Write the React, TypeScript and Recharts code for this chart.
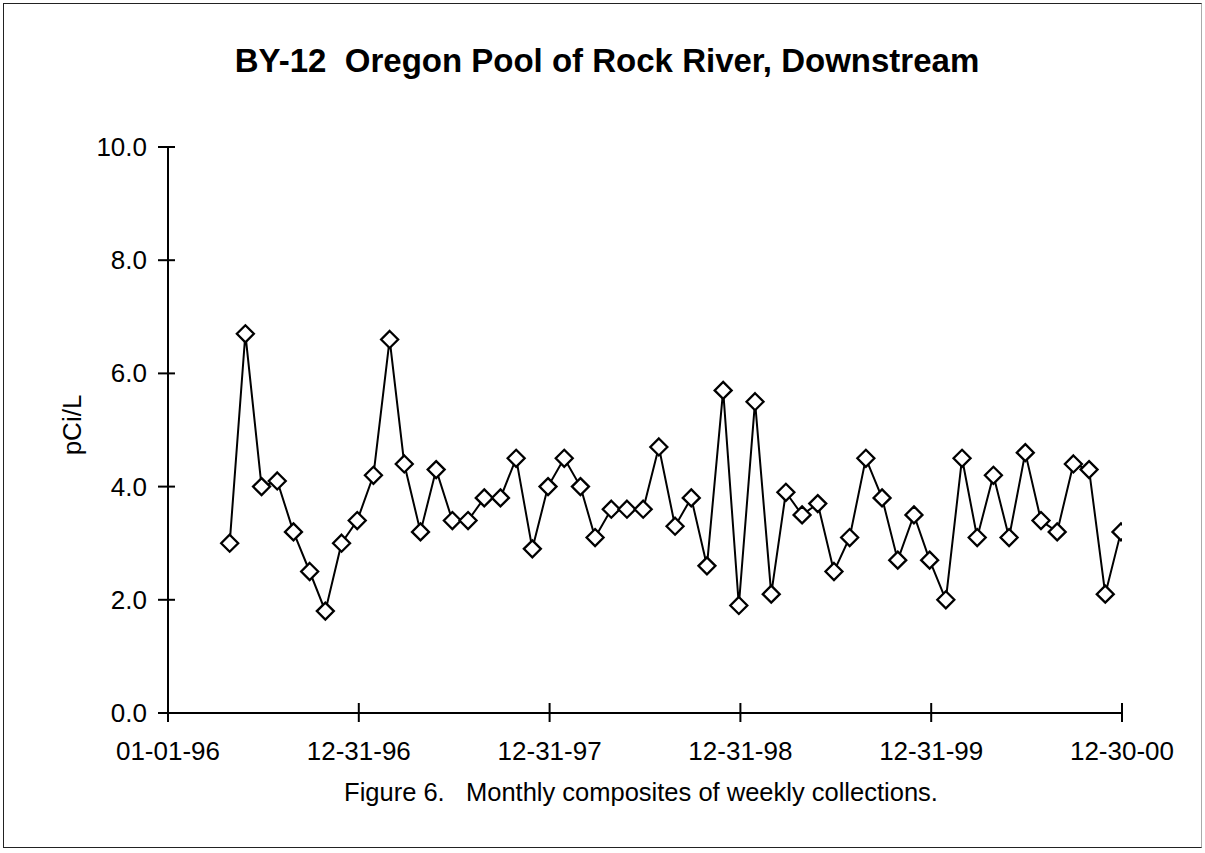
import React from 'react';
import { LineChart, Line, XAxis, YAxis } from 'recharts';

// Sample months (monthly composites of weekly collections)
const sampleMonths = [
  '1996-04', '1996-05', '1996-06', '1996-07', '1996-08', '1996-09', '1996-10', '1996-11', '1996-12',
  '1997-01', '1997-02', '1997-03', '1997-04', '1997-05', '1997-06', '1997-07', '1997-08', '1997-09', '1997-10', '1997-11', '1997-12',
  '1998-01', '1998-02', '1998-03', '1998-04', '1998-05', '1998-06', '1998-07', '1998-08', '1998-09', '1998-10', '1998-11', '1998-12',
  '1999-01', '1999-02', '1999-03', '1999-04', '1999-05', '1999-06', '1999-07', '1999-08', '1999-09', '1999-10', '1999-11', '1999-12',
  '2000-01', '2000-02', '2000-03', '2000-04', '2000-05', '2000-06', '2000-07', '2000-08', '2000-09', '2000-10', '2000-11', '2000-12',
];

// pCi/L values
const activity = [
  3.0, 6.7, 4.0, 4.1, 3.2, 2.5, 1.8, 3.0, 3.4,
  4.2, 6.6, 4.4, 3.2, 4.3, 3.4, 3.4, 3.8, 3.8, 4.5, 2.9, 4.0,
  4.5, 4.0, 3.1, 3.6, 3.6, 3.6, 4.7, 3.3, 3.8, 2.6, 5.7, 1.9,
  5.5, 2.1, 3.9, 3.5, 3.7, 2.5, 3.1, 4.5, 3.8, 2.7, 3.5, 2.7,
  2.0, 4.5, 3.1, 4.2, 3.1, 4.6, 3.4, 3.2, 4.4, 4.3, 2.1, 3.2,
];

const xTickValues = [0, 365, 730, 1095, 1460, 1825];
const xTickLabels = ['01-01-96', '12-31-96', '12-31-97', '12-31-98', '12-31-99', '12-30-00'];
const yTickValues = [0, 2, 4, 6, 8, 10];

const DAY_MS = 86400000;
const ORIGIN = Date.UTC(1996, 0, 1);
const dayOf = (ym: string) => {
  const [y, m] = ym.split('-').map(Number);
  return (Date.UTC(y, m - 1, 28) - ORIGIN) / DAY_MS;
};

const data = sampleMonths.map((ym, i) => ({ day: dayOf(ym), value: activity[i] }));

const FONT = '"Liberation Sans", Arial, Helvetica, sans-serif';

const Diamond = (props: any) => {
  const { cx, cy, index } = props;
  if (cx == null || cy == null) return <g key={index} />;
  const r = 8.5;
  return (
    <path
      key={index}
      d={`M${cx},${cy - r}L${cx + r},${cy}L${cx},${cy + r}L${cx - r},${cy}Z`}
      fill="#fff"
      stroke="#000"
      strokeWidth={2.3}
    />
  );
};

const YTick = (props: any) => {
  const { x, y, payload } = props;
  return (
    <g>
      <line x1={x - 10} x2={x + 7} y1={y} y2={y} stroke="#000" strokeWidth={2} />
      <text
        x={x - 21}
        y={y}
        textAnchor="end"
        dominantBaseline="central"
        fontSize={26}
        fontFamily={FONT}
        fill="#000"
      >
        {Number(payload.value).toFixed(1)}
      </text>
    </g>
  );
};

const XTick = (props: any) => {
  const { x, y, payload } = props;
  const idx = xTickValues.indexOf(payload.value);
  return (
    <g>
      <line x1={x} x2={x} y1={y - 10} y2={y + 9} stroke="#000" strokeWidth={2} />
      <text
        x={x}
        y={y + 38}
        textAnchor="middle"
        dominantBaseline="central"
        fontSize={26}
        fontFamily={FONT}
        fill="#000"
      >
        {idx >= 0 ? xTickLabels[idx] : ''}
      </text>
    </g>
  );
};

export default function App() {
  return (
    <div
      style={{
        position: 'absolute',
        left: 0,
        top: 0,
        width: 1205,
        height: 853,
        background: '#fff',
        fontFamily: FONT,
      }}
    >
      <div
        style={{
          position: 'absolute',
          left: 3,
          top: 3,
          width: 1199,
          height: 845,
          borderTop: '1.5px solid #222',
          borderLeft: '1.5px solid #222',
          borderBottom: '1.5px solid #222',
          borderRight: '1px solid #aaa',
          boxSizing: 'border-box',
        }}
      />
      <div
        style={{
          position: 'absolute',
          left: 107,
          width: 1000,
          top: 41,
          textAlign: 'center',
          fontWeight: 'bold',
          fontSize: 33,
          lineHeight: '40px',
          color: '#000',
          whiteSpace: 'pre',
        }}
      >
        {'BY-12  Oregon Pool of Rock River, Downstream'}
      </div>
      <div
        style={{
          position: 'absolute',
          left: 32,
          top: 409,
          width: 80,
          height: 32,
          textAlign: 'center',
          fontSize: 26,
          lineHeight: '32px',
          transform: 'rotate(-90deg)',
          transformOrigin: 'center',
          color: '#000',
        }}
      >
        pCi/L
      </div>
      <div
        style={{
          position: 'absolute',
          left: 291,
          width: 700,
          top: 776,
          textAlign: 'center',
          fontSize: 25.5,
          lineHeight: '32px',
          color: '#000',
          whiteSpace: 'pre',
        }}
      >
        {'Figure 6.   Monthly composites of weekly collections.'}
      </div>
      <div style={{ position: 'absolute', left: 0, top: 0 }}>
        <LineChart
          width={1205}
          height={853}
          data={data}
          margin={{ top: 147, right: 83, left: 88, bottom: 100 }}
        >
          <XAxis
            type="number"
            dataKey="day"
            domain={[0, 1825]}
            ticks={xTickValues}
            height={40}
            tickSize={0}
            tickMargin={0}
            tickLine={false}
            axisLine={{ stroke: '#000', strokeWidth: 2 }}
            tick={<XTick />}
            interval={0}
            allowDataOverflow
          />
          <YAxis
            type="number"
            domain={[0, 10]}
            ticks={yTickValues}
            width={80}
            tickSize={0}
            tickMargin={0}
            tickLine={false}
            axisLine={{ stroke: '#000', strokeWidth: 2 }}
            tick={<YTick />}
            interval={0}
          />
          <Line
            type="linear"
            dataKey="value"
            stroke="#000"
            strokeWidth={2}
            dot={Diamond}
            activeDot={false}
            isAnimationActive={false}
          />
        </LineChart>
      </div>
    </div>
  );
}
